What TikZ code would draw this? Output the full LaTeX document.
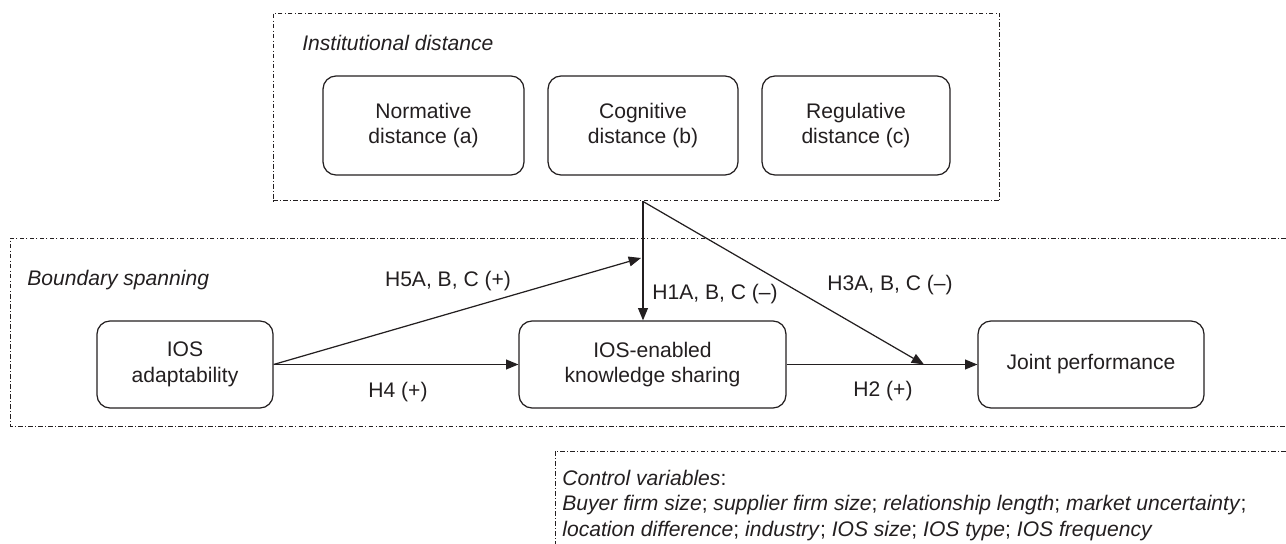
\documentclass[tikz,border=0pt]{standalone}
\usepackage{fontspec}
\setmainfont{Liberation Sans}
\usetikzlibrary{
  arrows.meta,
  calc
}
\definecolor{ink}{RGB}{35,31,32}
\tikzset{
  % For the constructs of the model.
  construct/.style={
    draw=ink,
    line width=0.7pt,
    rounded corners=0.26cm,
    align=center,
    text=ink,
    font=\fontsize{12}{14.6}\selectfont,
    minimum height=1.74cm,
    inner sep=0pt},
%
  % For the three dimensions of distance.
  dimension/.style={
    construct,
    minimum width=3.8cm,
    minimum height=1.98cm},
%
  % For the dash-dotted frames round groups.
  group frame/.style={
    draw=ink,
    line width=0.55pt,
    dash pattern=on 2.6pt off 1.3pt on 0.5pt off 1.3pt},
%
  % For hypothesised effects.
  link/.style={
    draw=ink,
    line width=0.7pt,
    -{Triangle[length=7pt,width=5.6pt]}},
%
  % For hypothesis labels.
  hypothesis/.style={
    text=ink,
    font=\fontsize{12}{14.4}\selectfont,
    inner sep=0pt},
%
  % For group titles.
  caption/.style={
    text=ink,
    font=\fontsize{12}{14.4}\selectfont\itshape,
    inner sep=0pt},
}

\begin{document}
\begin{tikzpicture}[x=0.02cm, y=-0.02cm]
  \useasboundingbox (0,0) rectangle (1286,544);

  % Institutional distance
  \node[group frame, minimum width=14.54cm, minimum height=3.76cm,
        inner sep=0pt] (inst) at (636.5,107) {};
  \node[caption, anchor=west] (instT) at (302,43) {Institutional distance};
  \node[dimension, minimum width=4.02cm] (norm) at (423.5,125.5)
    {Normative\\distance (a)};
  \node[dimension] (cogn) at (643,125.5) {Cognitive\\distance (b)};
  \node[dimension, minimum width=3.76cm] (regu) at (856,125.5)
    {Regulative\\distance (c)};

  % Boundary spanning
  \draw[group frame] (1286,238) -- (10,238) -- (10,426) -- (1286,426);
  \node[caption, anchor=west] (bsT) at (27,280) {Boundary spanning};
  \node[construct, minimum width=3.52cm] (adapt) at (185,364.5)
    {IOS\\adaptability};
  \node[construct, minimum width=5.34cm] (share) at (652.5,364.5)
    {IOS-enabled\\knowledge sharing};
  \node[construct, minimum width=4.52cm] (joint) at (1091,364.5)
    {Joint performance};

  % Control variables
  \draw[group frame] (1286,451) -- (555,451) -- (555,544);
  \node[caption, anchor=north west, align=left,
        font=\fontsize{12}{14.4}\selectfont] (ctrl) at (562,470)
    {\textit{Control variables}:\\
     \textit{Buyer firm size}; \textit{supplier firm size};
     \textit{relationship length}; \textit{market uncertainty};\\
     \textit{location difference}; \textit{industry}; \textit{IOS size};
     \textit{IOS type}; \textit{IOS frequency}};

  \coordinate (src) at (cogn |- inst.south);
  \coordinate (mod) at (641,258);
  \coordinate (perf) at (924,364.5);

  \draw[link] (src) -- (cogn |- share.north);
  \draw[link] (src) -- (perf);
  \draw[link] (adapt.east) -- (mod);
  \draw[link] (adapt.east) -- (share.west);
  \draw[link] (share.east) -- (joint.west);

  \node[hypothesis] (h5) at (448,281) {H5A, B, C (+)};
  \node[hypothesis] (h4) at (398,392) {H4 (+)};
  \node[hypothesis] (h1) at (715,294) {H1A, B, C (\textendash)};
  \node[hypothesis] (h3) at (890,285) {H3A, B, C (\textendash)};
  \node[hypothesis] (h2) at (883,391) {H2 (+)};
\end{tikzpicture}
\end{document}
